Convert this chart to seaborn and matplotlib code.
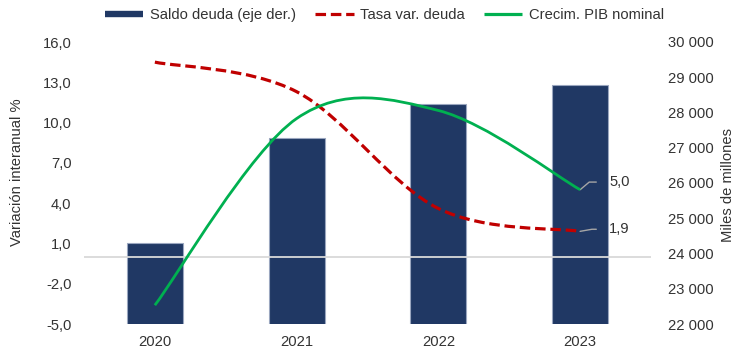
import matplotlib
matplotlib.use("Agg")
import matplotlib.pyplot as plt
from matplotlib.path import Path
from matplotlib.patches import PathPatch
from matplotlib.lines import Line2D
from matplotlib.ticker import FuncFormatter, FixedLocator
import seaborn as sns
import pandas as pd

# Data
years = ["2020", "2021", "2022", "2023"]
saldo_deuda = [24290, 27285, 28235, 28775]        # miles de millones (eje der.)
tasa_var_deuda = [14.5, 12.3, 3.6, 1.9]            # %
crecim_pib = [-3.6, 10.3, 10.9, 5.0]               # %

left_ticks = [-5, -2, 1, 4, 7, 10, 13, 16]
right_ticks = [22000, 23000, 24000, 25000, 26000, 27000, 28000, 29000, 30000]

NAVY = "#203864"
RED = "#C00000"
GREEN = "#00B050"
TEXT = "#333333"
FS = 10.6

sns.set_style("white")
plt.rcParams["font.family"] = ["Liberation Sans", "DejaVu Sans"]
plt.rcParams["text.color"] = TEXT
plt.rcParams["axes.labelcolor"] = TEXT
plt.rcParams["xtick.color"] = TEXT
plt.rcParams["ytick.color"] = TEXT


def smooth_path(xs, ys):
    """Cubic Bezier path through the points (spreadsheet-style smoothed line)."""
    n = len(xs)
    verts = [(xs[0], ys[0])]
    codes = [Path.MOVETO]
    for i in range(n - 1):
        i0 = max(i - 1, 0)
        i3 = min(i + 2, n - 1)
        c1 = (xs[i] + (xs[i + 1] - xs[i0]) / 6, ys[i] + (ys[i + 1] - ys[i0]) / 6)
        c2 = (xs[i + 1] - (xs[i3] - xs[i]) / 6, ys[i + 1] - (ys[i3] - ys[i]) / 6)
        verts += [c1, c2, (xs[i + 1], ys[i + 1])]
        codes += [Path.CURVE4] * 3
    return Path(verts, codes)


fig = plt.figure(figsize=(7.34, 3.49), dpi=100)
ax = fig.add_axes([84 / 734, 25 / 349, 567 / 734, 282 / 349])
ax2 = ax.twinx()

# Bars: debt balance on the right axis
df = pd.DataFrame({"year": years, "saldo": saldo_deuda})
sns.barplot(data=df, x="year", y="saldo", ax=ax2, color=NAVY, width=0.395,
            edgecolor="#9aa6bf", linewidth=0.8, saturation=1)
ax2.set_ylim(22000, 30000)
ax2.yaxis.set_major_locator(FixedLocator(right_ticks))
ax2.yaxis.set_major_formatter(FuncFormatter(lambda v, p: f"{int(v):,}".replace(",", " ")))
ax2.set_xlabel("")
ax2.set_ylabel("Miles de millones", fontsize=FS)
ax2.yaxis.set_label_coords(1.123, 0.493)
ax2.tick_params(axis="y", length=0, pad=12, labelsize=FS)

# Lines: rates on the left axis, drawn above the bars
ax.set_zorder(ax2.get_zorder() + 1)
ax.patch.set_visible(False)
xpos = list(range(len(years)))
ax.axhline(0, color="#d9d9d9", lw=1.3, zorder=1)
ax.add_patch(PathPatch(smooth_path(xpos, tasa_var_deuda), fill=False, ec=RED, lw=2.3,
                       ls=(0, (3.3, 1.5)), capstyle="butt", zorder=3))
ax.add_patch(PathPatch(smooth_path(xpos, crecim_pib), fill=False, ec=GREEN, lw=2.0,
                       zorder=4))

ax.set_xlim(-0.5, len(years) - 0.5)
ax.set_ylim(-5, 16)
ax.yaxis.set_major_locator(FixedLocator(left_ticks))
ax.yaxis.set_major_formatter(FuncFormatter(lambda v, p: f"{v:.1f}".replace(".", ",")))
ax.set_xticks(xpos, labels=years)
ax.tick_params(axis="both", length=0, labelsize=FS)
ax.tick_params(axis="y", pad=9)
ax.tick_params(axis="x", pad=8)
ax.set_ylabel("Variación interanual %", fontsize=FS)
ax.yaxis.set_label_coords(-0.106, 0.54)

for a in (ax, ax2):
    for s in a.spines.values():
        s.set_visible(False)

# Value labels on the last points
leader = dict(arrowstyle="-", color="#a6a6a6", lw=1.0, shrinkA=7, shrinkB=0,
              relpos=(0, 0.5))
ax.annotate(f"{crecim_pib[-1]:.1f}".replace(".", ","), xy=(xpos[-1], crecim_pib[-1]),
            xytext=(21, 5.5), textcoords="offset points", ha="left", va="center",
            fontsize=FS,
            arrowprops=dict(leader, connectionstyle="angle,angleA=0,angleB=40,rad=0"))
ax.annotate(f"{tasa_var_deuda[-1]:.1f}".replace(".", ","), xy=(xpos[-1], tasa_var_deuda[-1]),
            xytext=(21, 1.5), textcoords="offset points", ha="left", va="center",
            fontsize=FS,
            arrowprops=dict(leader, connectionstyle="angle,angleA=0,angleB=10,rad=0"))

# Legend
handles = [
    Line2D([], [], color=NAVY, lw=4.6, solid_capstyle="butt"),
    Line2D([], [], color=RED, lw=2.3, ls=(0, (3.3, 1.5)), dash_capstyle="butt"),
    Line2D([], [], color=GREEN, lw=2.3, solid_capstyle="butt"),
]
labels = ["Saldo deuda (eje der.)", "Tasa var. deuda", "Crecim. PIB nominal"]
fig.legend(handles, labels, loc="center", bbox_to_anchor=(0.524, 0.958), ncol=3,
           frameon=False, fontsize=FS, handlelength=2.6, handletextpad=0.45,
           columnspacing=1.3)

fig.savefig("out.png", dpi=100)
